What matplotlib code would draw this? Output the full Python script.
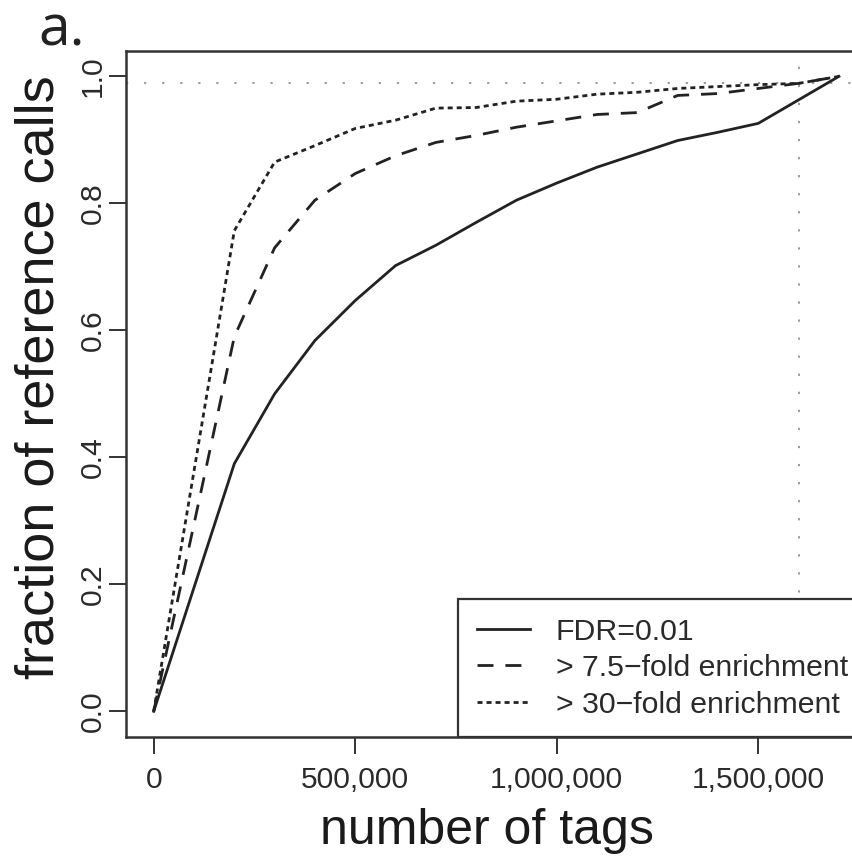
import matplotlib
matplotlib.use("Agg")
import matplotlib.pyplot as plt
from matplotlib.ticker import FuncFormatter

# кривые насыщения: доля референсных пиков в зависимости от числа тегов
tags = [0, 200000, 300000, 400000, 500000, 600000, 700000, 800000, 900000,
        1000000, 1100000, 1200000, 1300000, 1400000, 1500000, 1600000, 1700000]
fdr = [0, 0.39, 0.50, 0.584, 0.647, 0.702, 0.734, 0.770, 0.805,
       0.832, 0.857, 0.878, 0.899, 0.912, 0.926, 0.963, 1.0]
fold75 = [0, 0.59, 0.73, 0.805, 0.847, 0.875, 0.896, 0.907, 0.92,
          0.93, 0.94, 0.943, 0.97, 0.973, 0.981, 0.989, 1.0]
fold30 = [0, 0.757, 0.865, 0.891, 0.918, 0.931, 0.95, 0.951, 0.961,
          0.964, 0.972, 0.975, 0.981, 0.984, 0.987, 0.989, 1.0]

labels = ["FDR=0.01", "> 7.5\u2212fold enrichment", "> 30\u2212fold enrichment"]
xticks = [0, 500000, 1000000, 1500000]
yticks = [0.0, 0.2, 0.4, 0.6, 0.8, 1.0]
ref_frac = 0.99
ref_tags = 1600000

plt.rcParams['font.family'] = ['Liberation Sans', 'DejaVu Sans']
plt.rcParams['lines.scale_dashes'] = False

W, H = 853, 856
fig = plt.figure(figsize=(W / 100, H / 100), dpi=100)
# оси шире рисунка: правая часть рамки уходит за край
ax = fig.add_axes([126.3 / W, (H - 736.7) / H, 740 / W, 685.7 / H])

ink = '#222222'
lw = 2.0
ax.plot(tags, fdr, color=ink, lw=lw, linestyle='-', label=labels[0])
ax.plot(tags, fold75, color=ink, lw=lw, linestyle=(0, (11.5, 8.6)), label=labels[1])
ax.plot(tags, fold30, color=ink, lw=lw, linestyle=(0, (3.6, 2.9)), label=labels[2])

ax.axhline(ref_frac, color='#9a9a9a', lw=1.4, linestyle=(0, (1.6, 11.4)), zorder=1)
ax.axvline(ref_tags, color='#9a9a9a', lw=1.4, linestyle=(0, (1.6, 11.4)), zorder=1)

ax.set_xlim(-68000, 1768000)
ax.set_ylim(-0.04, 1.04)
ax.set_xticks(xticks)
ax.set_yticks(yticks)
ax.xaxis.set_major_formatter(FuncFormatter(lambda v, p: f"{int(v):,}"))
ax.yaxis.set_major_formatter(FuncFormatter(lambda v, p: f"{v:.1f}"))
ax.tick_params(axis='both', length=12.2, width=1.4, color='#333333',
               labelsize=21.6, labelcolor='#2a2a2a')
ax.tick_params(axis='x', pad=9)
ax.tick_params(axis='y', pad=2)
plt.setp(ax.get_yticklabels(), rotation=90, va='center')

for s in ax.spines.values():
    s.set_linewidth(1.8)
    s.set_color('#333333')
ax.spines['right'].set_visible(False)

ax.set_xlabel("number of tags", fontsize=36, color='#1a1a1a')
ax.set_ylabel("fraction of reference calls", fontsize=39, color='#1a1a1a')
ax.xaxis.set_label_coords(0.488, -0.104)
ax.yaxis.set_label_coords(-0.083, 0.524)

leg = ax.legend(loc='lower right', bbox_to_anchor=(1.0, 0.0), borderaxespad=0,
                fontsize=21.8, frameon=True, fancybox=False, framealpha=1,
                handlelength=1.77, handletextpad=0.85, borderpad=0.6,
                labelspacing=0.28)
leg.get_frame().set_edgecolor('#333333')
leg.get_frame().set_linewidth(1.6)
for t in leg.get_texts():
    t.set_color('#2a2a2a')

fig.text(38 / W, 1 - 45 / H, "a.", fontsize=41, family='Open Sans',
         color='#222222', ha='left', va='baseline')

fig.savefig("out.png", dpi=100)
